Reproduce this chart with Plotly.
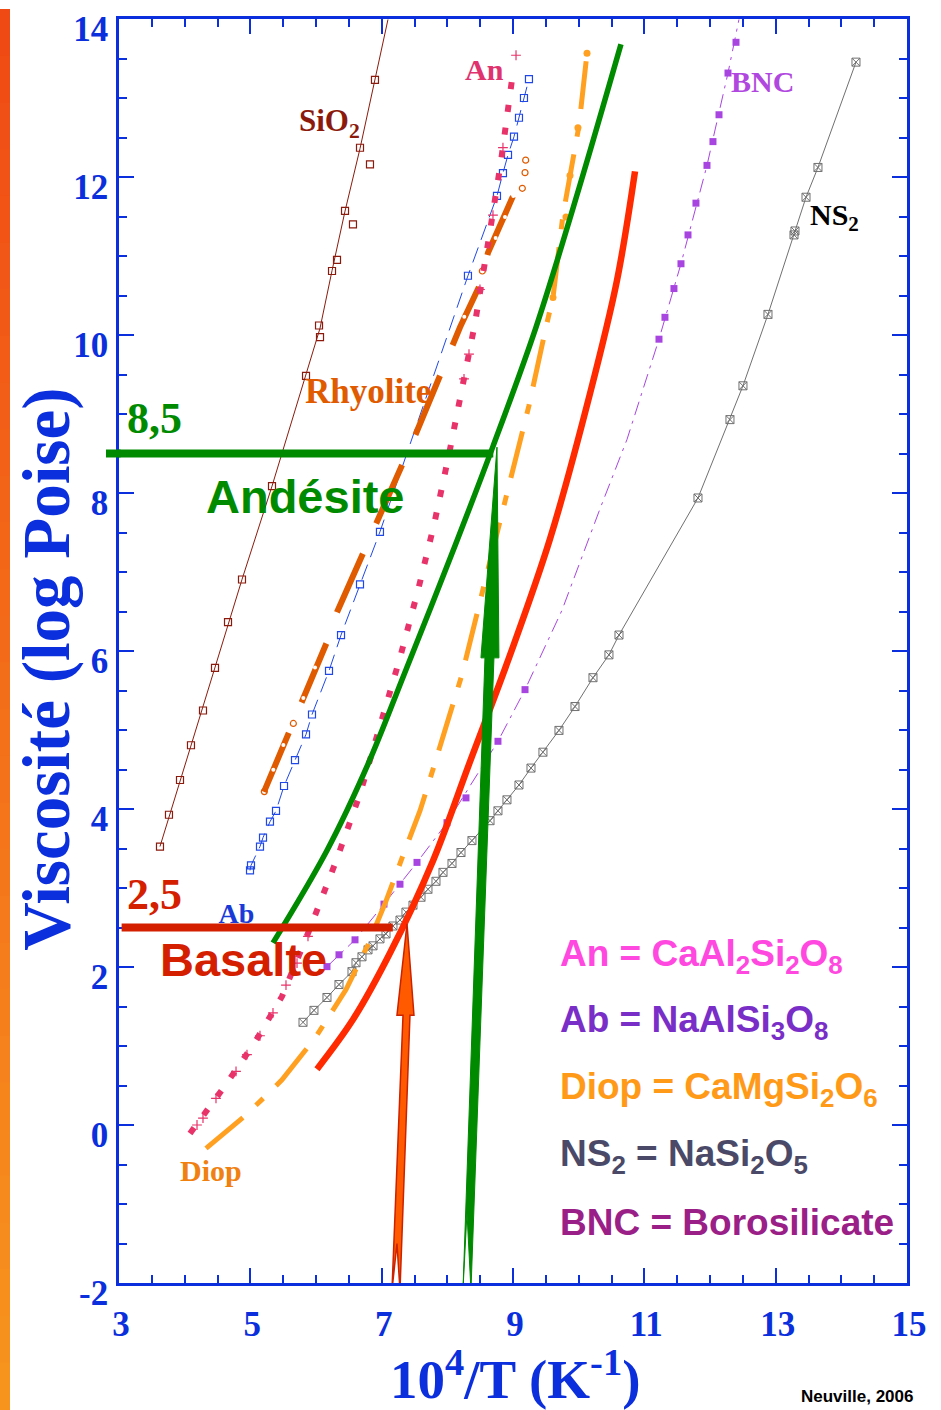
import plotly.graph_objects as go

# ---------------- data (x = 10^4/T in K^-1, y = log viscosity in Poise) ----------------
sio2_pts_x = [3.624, 3.761, 3.929, 4.096, 4.279, 4.462, 4.660, 4.873, 5.330, 5.848, 6.061,
              6.046, 6.244, 6.320, 6.563, 6.442, 6.822, 6.670, 6.898]
sio2_pts_y = [3.525, 3.927, 4.367, 4.807, 5.247, 5.787, 6.365, 6.905, 8.087, 9.482, 9.972,
              10.12, 10.81, 10.95, 11.40, 11.57, 12.16, 12.37, 13.23]
sio2_fit_x = [3.624, 4.462, 4.873, 5.330, 5.848, 6.061, 6.244, 6.442, 6.670, 6.898, 7.096]
sio2_fit_y = [3.525, 5.787, 6.905, 8.087, 9.482, 10.085, 10.814, 11.568, 12.360, 13.227, 13.994]

ab_x = [4.995, 5.010, 5.147, 5.193, 5.299, 5.391, 5.513, 5.680, 5.848, 5.939, 6.198, 6.381,
        6.670, 6.974, 8.314, 8.756, 8.847, 8.924, 9.015, 9.091, 9.167, 9.243]
ab_y = [3.223, 3.286, 3.525, 3.638, 3.839, 3.977, 4.291, 4.618, 4.945, 5.196, 5.749, 6.202,
        6.843, 7.509, 10.75, 11.76, 12.05, 12.28, 12.51, 12.75, 13.00, 13.24]

rhy_x = [5.208, 5.589, 5.787, 6.167, 6.320, 6.731, 6.929, 7.325, 7.523, 7.918, 8.193, 8.497, 8.619, 9.000]
rhy_y = [4.216, 4.957, 5.347, 6.114, 6.491, 7.258, 7.622, 8.364, 8.753, 9.545, 10.098, 10.638, 11.040, 11.757]
rhy_dot_x = [5.350, 5.503, 5.807, 5.985, 8.258, 8.736, 8.878, 9.005]
rhy_dot_y = [4.497, 4.811, 5.406, 5.791, 10.232, 11.229, 11.493, 11.760]
rhy_open_x = [5.213, 5.655, 8.533, 9.142, 9.183, 9.193]
rhy_open_y = [4.220, 5.083, 10.810, 11.857, 12.055, 12.213]

an_x = [4.081, 4.614, 5.071, 5.482, 5.893, 6.304, 6.670, 6.974, 7.279, 7.553, 7.797, 8.025,
        8.223, 8.421, 8.650, 8.817, 9.000]
an_y = [-0.107, 0.496, 1.049, 1.627, 2.456, 3.336, 4.191, 5.033, 5.913, 6.767, 7.597, 8.489,
        9.319, 10.148, 11.317, 12.197, 13.328]
an_plus_x = [4.188, 4.279, 4.477, 4.782, 4.949, 5.147, 5.345, 5.543, 5.711, 5.878,
             8.254, 8.330, 8.497, 8.695, 8.847, 9.046]
an_plus_y = [0.000, 0.087, 0.338, 0.678, 0.891, 1.130, 1.419, 1.771, 2.048, 2.387,
             9.445, 9.759, 10.576, 11.518, 12.373, 13.541]

diop_x = [4.325, 4.888, 5.238, 5.482, 5.985, 6.274, 6.457, 6.792, 7.066, 7.325, 7.584, 7.797,
          8.010, 8.223, 8.558, 8.908, 9.243, 9.502, 9.609, 9.761, 10.005, 10.127]
diop_y = [-0.296, 0.094, 0.370, 0.571, 1.099, 1.464, 1.715, 2.281, 2.834, 3.412, 3.978, 4.543,
          5.134, 5.700, 6.831, 7.962, 9.106, 10.098, 10.475, 11.518, 12.650, 13.566]
diop_pts_x = [9.609, 9.807, 9.868, 9.989, 10.127]
diop_pts_y = [10.475, 11.493, 12.020, 12.624, 13.566]

ns2_x = [5.802, 5.969, 6.167, 6.350, 6.548, 6.609, 6.700, 6.792, 6.868, 6.974, 7.066, 7.172,
         7.279, 7.370, 7.477, 7.599, 7.705, 7.827, 7.934, 8.071, 8.208, 8.375, 8.650, 8.771,
         8.908, 9.091, 9.274, 9.456, 9.700, 9.944, 10.218, 10.461, 10.614, 11.817, 12.304,
         12.502, 12.883, 13.279, 13.294, 13.462, 13.644, 14.223]
ns2_y = [1.300, 1.451, 1.614, 1.778, 1.941, 2.054, 2.129, 2.217, 2.268, 2.356, 2.419, 2.519,
         2.594, 2.695, 2.783, 2.883, 2.984, 3.085, 3.198, 3.311, 3.449, 3.600, 3.852, 3.977,
         4.116, 4.304, 4.518, 4.719, 4.995, 5.297, 5.662, 5.951, 6.202, 7.937, 8.929,
         9.357, 10.261, 11.267, 11.317, 11.744, 12.121, 13.454]

bnc_pts_x = [6.167, 6.350, 6.594, 7.035, 7.279, 7.538, 7.995, 8.284, 8.771, 9.183,
             11.223, 11.314, 11.451, 11.558, 11.665, 11.786, 11.954, 12.045, 12.137, 12.274, 12.396]
bnc_pts_y = [2.005, 2.155, 2.344, 2.796, 3.048, 3.324, 3.827, 4.141, 4.857, 5.511,
             9.947, 10.224, 10.588, 10.902, 11.267, 11.669, 12.147, 12.448, 12.788, 13.316, 13.705]
bnc_line_x = [6.167, 6.594, 7.035, 7.538, 7.995, 8.771, 9.183, 9.746, 10.324, 10.736, 11.223,
              11.558, 11.954, 12.274, 12.441]
bnc_line_y = [2.005, 2.344, 2.796, 3.324, 3.827, 4.857, 5.511, 6.516, 7.798, 8.678, 9.947,
              10.902, 12.147, 13.316, 13.994]

basalte_x = [6.015, 6.563, 7.127, 7.782, 8.330, 8.954, 9.563, 10.172, 10.583, 10.858]
basalte_y = [0.707, 1.335, 2.177, 3.346, 4.565, 5.947, 7.417, 9.256, 10.689, 12.071]

andesite_x = [5.345, 6.167, 6.792, 7.340, 8.117, 8.695, 9.350, 10.005, 10.644]
andesite_y = [2.306, 3.475, 4.568, 5.700, 7.333, 8.590, 10.098, 11.857, 13.679]

# reference viscosities of the two magmas
andesite_level = 8.5
basalte_level = 2.5
andesite_level_x = [3.0, 8.70]
basalte_level_x = [3.04, 7.17]

# arrow outlines (x, y)
red_arrow = [(7.386, 2.545), (7.492, 1.389), (7.431, 1.389), (7.279, -2.09), (7.233, -1.50),
             (7.157, -2.09), (7.325, 1.389), (7.233, 1.389)]
green_arrow = [(8.756, 8.58), (8.786, 5.913), (8.710, 5.913), (8.360, -2.09), (8.299, -1.11),
               (8.238, -2.09), (8.573, 5.913), (8.512, 5.913)]

# axis ticks
x_ticks = [3, 5, 7, 9, 11, 13, 15]
y_ticks = [-2, 0, 2, 4, 6, 8, 10, 12, 14]
y_tick_text = ["-2", "0", "2", "4", "6", "8", "10", "12", "14"]

legend_lines = [
    ("An = CaAl<sub>2</sub>Si<sub>2</sub>O<sub>8</sub>", "#ff48e0"),
    ("Ab = NaAlSi<sub>3</sub>O<sub>8</sub>", "#7a2ec8"),
    ("Diop = CaMgSi<sub>2</sub>O<sub>6</sub>", "#ff9a18"),
    ("NS<sub>2</sub> = NaSi<sub>2</sub>O<sub>5</sub>", "#4a4a68"),
    ("BNC = Borosilicate", "#9a2088"),
]
legend_y = [2.143, 1.301, 0.459, -0.396, -1.238]

# ---------------- styling ----------------
BLUE = "#0b2fdc"
SERIF = "Liberation Serif"
SANS = "Liberation Sans"

fig = go.Figure()

# SiO2
fig.add_trace(go.Scatter(x=sio2_fit_x, y=sio2_fit_y, mode="lines",
                         line=dict(color="#8b1a0c", width=1)))
fig.add_trace(go.Scatter(x=sio2_pts_x, y=sio2_pts_y, mode="markers",
                         marker=dict(symbol="square-open", size=7, color="#8b1a0c",
                                     line=dict(width=1.2))))
# Ab
fig.add_trace(go.Scatter(x=ab_x, y=ab_y, mode="lines+markers",
                         line=dict(color="#2048e8", width=1, dash="16px,8px"),
                         marker=dict(symbol="square-open", size=7, color="#2048e8",
                                     line=dict(width=1.2))))
# Rhyolite
fig.add_trace(go.Scatter(x=rhy_x, y=rhy_y, mode="lines",
                         line=dict(color="#e05a00", width=6, dash="64px,33px")))
fig.add_trace(go.Scatter(x=rhy_dot_x, y=rhy_dot_y, mode="markers",
                         marker=dict(symbol="circle", size=4, color="white")))
fig.add_trace(go.Scatter(x=rhy_open_x, y=rhy_open_y, mode="markers",
                         marker=dict(symbol="circle-open", size=6, color="#e05a00",
                                     line=dict(width=1.2))))
# An
fig.add_trace(go.Scatter(x=an_x, y=an_y, mode="lines",
                         line=dict(color="#e8336a", width=6, dash="7px,16px")))
fig.add_trace(go.Scatter(x=an_plus_x, y=an_plus_y, mode="markers",
                         marker=dict(symbol="cross-thin-open", size=7, color="#e8336a",
                                     line=dict(width=1.2, color="#e8336a"))))
# NS2
fig.add_trace(go.Scatter(x=ns2_x, y=ns2_y, mode="lines+markers",
                         line=dict(color="#707070", width=1),
                         marker=dict(symbol="square-x-open", size=8, color="#707070",
                                     line=dict(width=1))))
# BNC
fig.add_trace(go.Scatter(x=bnc_line_x, y=bnc_line_y, mode="lines",
                         line=dict(color="#a845e0", width=1, dash="14px,6px,3px,6px")))
fig.add_trace(go.Scatter(x=bnc_pts_x, y=bnc_pts_y, mode="markers",
                         marker=dict(symbol="square", size=7, color="#a845e0")))
# Diopside
fig.add_trace(go.Scatter(x=diop_x, y=diop_y, mode="lines",
                         line=dict(color="#ffa020", width=5, dash="48px,18px,10px,18px")))
fig.add_trace(go.Scatter(x=diop_pts_x, y=diop_pts_y, mode="markers",
                         marker=dict(symbol="circle", size=7, color="#ffa020")))
# Andesite and basalt
fig.add_trace(go.Scatter(x=andesite_x, y=andesite_y, mode="lines", line_shape="spline",
                         line=dict(color="#008a00", width=5.5)))
fig.add_trace(go.Scatter(x=basalte_x, y=basalte_y, mode="lines", line_shape="spline",
                         line=dict(color="#ff2a00", width=6.5)))
# "Ab" label sits under the 2,5 level line
fig.add_trace(go.Scatter(x=[4.789], y=[2.64], mode="text", text=["Ab"],
                         textfont=dict(family=SERIF, size=28, color="#1a3ad8", weight="bold")))


def outline_path(pts):
    return "M " + " L ".join(f"{px},{py}" for px, py in pts) + " Z"


shapes = [
    dict(type="line", xref="x", yref="y", x0=andesite_level_x[0], x1=andesite_level_x[1],
         y0=andesite_level, y1=andesite_level, line=dict(color="#008a00", width=8), layer="above"),
    dict(type="line", xref="x domain", yref="y", x0=-0.0165, x1=0.002,
         y0=andesite_level, y1=andesite_level, line=dict(color="#008a00", width=8), layer="above"),
    dict(type="line", xref="x", yref="y", x0=basalte_level_x[0], x1=basalte_level_x[1],
         y0=basalte_level, y1=basalte_level, line=dict(color="#d42000", width=8), layer="above"),
    dict(type="path", xref="x", yref="y", path=outline_path(red_arrow),
         fillcolor="#ff5a00", line=dict(color="#cc2200", width=1.5), layer="above"),
    dict(type="path", xref="x", yref="y", path=outline_path(green_arrow),
         fillcolor="#008a00", line=dict(color="#008a00", width=1), layer="above"),
]

# orange strip along the left edge of the slide
n_band = 30
c_top = (240, 74, 20)
c_bot = (247, 148, 30)
for i in range(n_band):
    t = i / (n_band - 1)
    col = tuple(round(a + (b - a) * t) for a, b in zip(c_top, c_bot))
    y_hi = 1.0079 - (1.0079 + 0.0998) * i / n_band
    y_lo = 1.0079 - (1.0079 + 0.0998) * (i + 1) / n_band
    shapes.append(dict(type="rect", xref="paper", yref="paper", x0=-0.151, x1=-0.1383,
                       y0=y_lo - 0.001, y1=y_hi, fillcolor="rgb(%d,%d,%d)" % col,
                       line=dict(width=0), layer="below"))

annotations = [
    dict(x=6.205, y=12.68, text="SiO<sub>2</sub>", font=dict(family=SERIF, size=31, color="#8b1a0c", weight="bold")),
    dict(x=8.566, y=13.36, text="An", font=dict(family=SERIF, size=30, color="#e0336e", weight="bold")),
    dict(x=12.799, y=13.21, text="BNC", font=dict(family=SERIF, size=30, color="#b048e0", weight="bold")),
    dict(x=13.903, y=11.50, text="NS<sub>2</sub>", font=dict(family=SERIF, size=30, color="#000000", weight="bold")),
    dict(x=6.792, y=9.29, text="Rhyolite", font=dict(family=SERIF, size=35, color="#e05a00", weight="bold")),
    dict(x=4.401, y=-0.58, text="Diop", font=dict(family=SERIF, size=30, color="#f08010", weight="bold")),
    dict(x=3.533, y=8.94, text="8,5", font=dict(family=SERIF, size=44, color="#008a00", weight="bold")),
    dict(x=3.533, y=2.92, text="2,5", font=dict(family=SERIF, size=44, color="#d42000", weight="bold")),
    dict(x=5.840, y=7.96, text="Andésite", font=dict(family=SANS, size=47, color="#008a00", weight="bold")),
    dict(x=4.896, y=2.09, text="Basalte", font=dict(family=SANS, size=47, color="#d42000", weight="bold")),
]
for a in annotations:
    a.update(xref="x", yref="y", showarrow=False, xanchor="center", yanchor="middle")

for (txt, col), yy in zip(legend_lines, legend_y):
    annotations.append(dict(xref="x", yref="y", x=9.685, y=yy, text=txt, showarrow=False,
                            xanchor="left", yanchor="middle",
                            font=dict(family=SANS, size=37, color=col, weight="bold")))

annotations += [
    dict(xref="paper", yref="paper", x=0.502, y=-0.0735, text="10<sup>4</sup>/T (K<sup>-1</sup>)",
         showarrow=False, xanchor="center", yanchor="middle",
         font=dict(family=SERIF, size=55, color=BLUE, weight="bold")),
    dict(xref="paper", yref="paper", x=-0.0914, y=0.486, text="Viscosité (log Poise)",
         textangle=-90, showarrow=False, xanchor="center", yanchor="middle",
         font=dict(family=SERIF, size=67, color=BLUE, weight="bold")),
    dict(xref="paper", yref="paper", x=0.936, y=-0.0985, text="Neuville, 2006",
         showarrow=False, xanchor="center", yanchor="bottom",
         font=dict(family=SANS, size=17, color="#000000", weight="bold")),
]

axis_common = dict(
    showgrid=False, zeroline=False, showline=True, linecolor=BLUE, linewidth=2.5,
    mirror="allticks", ticks="inside", ticklen=15, tickwidth=2, tickcolor=BLUE,
    tickfont=dict(family=SERIF, size=35, color=BLUE, weight="bold"),
    minor=dict(ticks="inside", ticklen=8, tickwidth=2, tickcolor=BLUE, dtick=0.5, showgrid=False),
)

fig.update_layout(
    width=941, height=1410,
    margin=dict(l=119, r=34, t=10, b=127),
    paper_bgcolor="white", plot_bgcolor="white",
    showlegend=False,
    xaxis=dict(range=[3, 15], tickmode="array", tickvals=x_ticks,
               ticklabelstandoff=8, ticklabelshift=2, **axis_common),
    yaxis=dict(range=[-2, 14], tickmode="array", tickvals=y_ticks, ticktext=y_tick_text,
               ticklabelstandoff=1, ticklabelshift=10, **axis_common),
    shapes=shapes,
    annotations=annotations,
)

fig.write_html("out.html")
